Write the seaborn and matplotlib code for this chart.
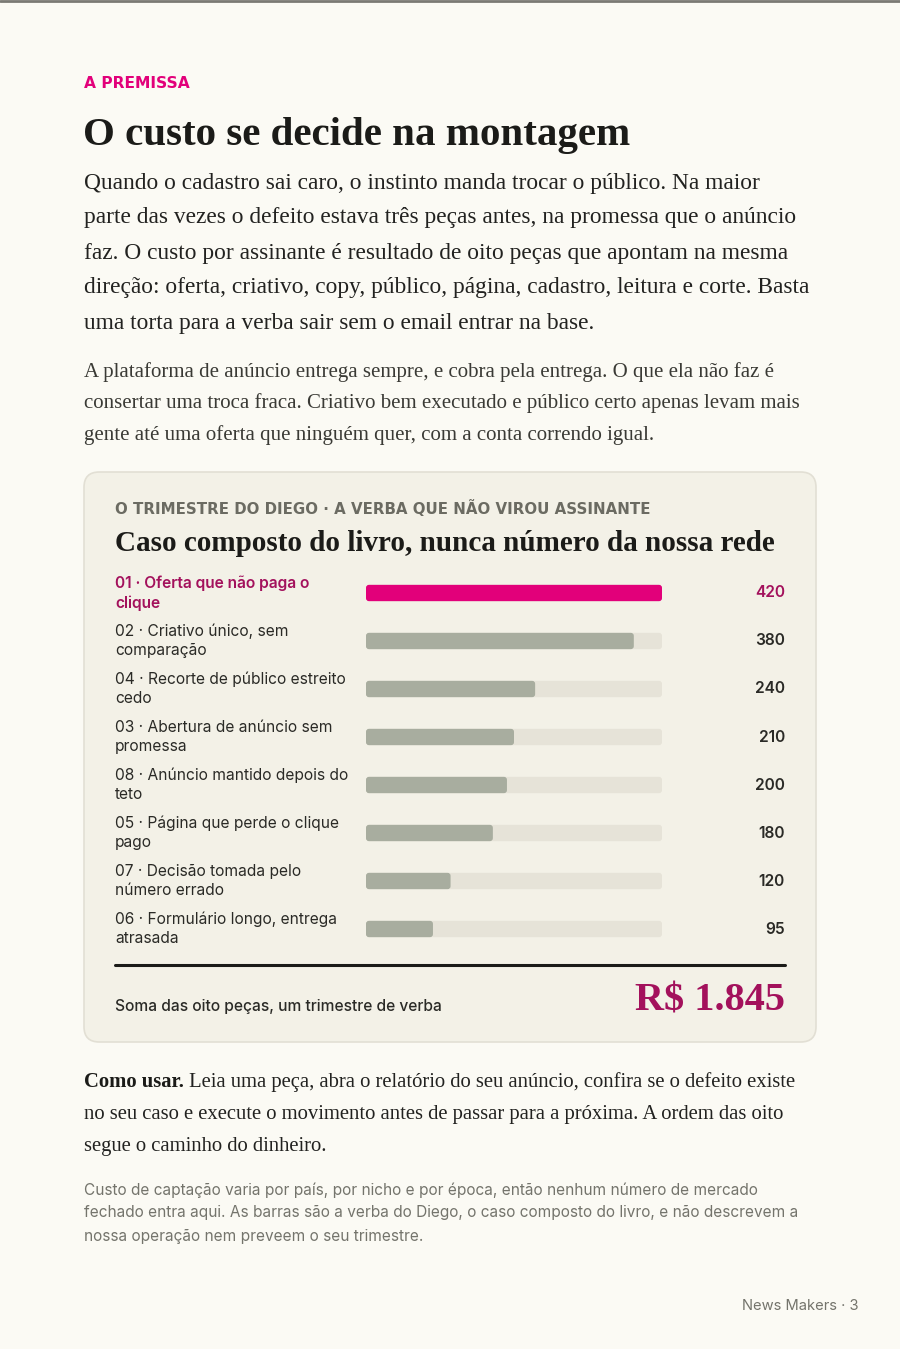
import matplotlib
matplotlib.use("Agg")
import matplotlib.pyplot as plt
import seaborn as sns
import pandas as pd
from matplotlib.patches import FancyBboxPatch
from matplotlib.transforms import blended_transform_factory

# Dados
rotulos = [
    "01 · Oferta que não paga o\nclique",
    "02 · Criativo único, sem\ncomparação",
    "04 · Recorte de público estreito\ncedo",
    "03 · Abertura de anúncio sem\npromessa",
    "08 · Anúncio mantido depois do\nteto",
    "05 · Página que perde o clique\npago",
    "07 · Decisão tomada pelo\nnúmero errado",
    "06 · Formulário longo, entrega\natrasada",
]
valores = [420, 380, 240, 210, 200, 180, 120, 95]
destaque = [True, False, False, False, False, False, False, False]
total_txt = "R$ 1.845"

paragrafo1 = [
    "Quando o cadastro sai caro, o instinto manda trocar o público. Na maior",
    "parte das vezes o defeito estava três peças antes, na promessa que o anúncio",
    "faz. O custo por assinante é resultado de oito peças que apontam na mesma",
    "direção: oferta, criativo, copy, público, página, cadastro, leitura e corte. Basta",
    "uma torta para a verba sair sem o email entrar na base.",
]
paragrafo2 = [
    "A plataforma de anúncio entrega sempre, e cobra pela entrega. O que ela não faz é",
    "consertar uma troca fraca. Criativo bem executado e público certo apenas levam mais",
    "gente até uma oferta que ninguém quer, com a conta correndo igual.",
]
como_usar = [
    "Leia uma peça, abra o relatório do seu anúncio, confira se o defeito existe",
    "no seu caso e execute o movimento antes de passar para a próxima. A ordem das oito",
    "segue o caminho do dinheiro.",
]
nota = [
    "Custo de captação varia por país, por nicho e por época, então nenhum número de mercado",
    "fechado entra aqui. As barras são a verba do Diego, o caso composto do livro, e não descrevem a",
    "nossa operação nem preveem o seu trimestre.",
]

# Cores
FUNDO = "#FBFAF4"
CARTAO = "#F3F1E7"
BORDA = "#E2DFD4"
ROSA = "#E2007A"
VINHO = "#A3115C"
CINZA_BARRA = "#A8AD9F"
TRILHO = "#E6E3D8"
TINTA = "#1B1B18"

sns.set_theme(style="white")
plt.rcParams["font.family"] = ["Inter", "DejaVu Sans"]
SERIF = ["Liberation Serif", "DejaVu Serif"]
LARGA = ["DejaVu Sans"]

W, H = 900, 1349
fig = plt.figure(figsize=(W / 100, H / 100), dpi=100, facecolor=FUNDO)


def fx(x):
    return x / W


def fy(y):
    return 1 - y / H


def put(x, y, s, **kw):
    kw.setdefault("va", "center")
    return fig.text(fx(x), fy(y), s, **kw)


# linha do topo
fig.add_artist(plt.Line2D([0, 1], [1 - 1 / H, 1 - 1 / H], color="#7A7A74", lw=2))

put(84, 83, "A PREMISSA", family=LARGA, color=ROSA, fontsize=11.2, fontweight="bold")
put(83, 136, "O custo se decide na montagem", family=SERIF, fontsize=29.5,
    fontweight="bold", color=TINTA)

for i, linha in enumerate(paragrafo1):
    put(84, 183 + i * 35, linha, family=SERIF, fontsize=16.8, color="#222220")

for i, linha in enumerate(paragrafo2):
    put(84, 372 + i * 31.5, linha, family=SERIF, fontsize=15, color="#3A3A35")

# cartão
cartao = FancyBboxPatch((fx(84), fy(1042)), fx(816) - fx(84), fy(472) - fy(1042),
                        boxstyle="round,pad=0,rounding_size=0.017",
                        transform=fig.transFigure, facecolor=CARTAO,
                        edgecolor=BORDA, lw=1.2, mutation_aspect=W / H, zorder=-1)
fig.add_artist(cartao)

put(115, 509, "O TRIMESTRE DO DIEGO · A VERBA QUE NÃO VIROU ASSINANTE",
    family=LARGA, color="#6B6B62", fontsize=10.8, fontweight="bold")
put(115, 543, "Caso composto do livro, nunca número da nossa rede", family=SERIF,
    fontsize=21.0, fontweight="bold", color=TINTA)

# barras
df = pd.DataFrame({"rotulo": rotulos, "valor": valores, "destaque": destaque})
df["trilho"] = max(valores)

ax = fig.add_axes([fx(366), fy(953), fx(662) - fx(366), fy(569) - fy(953)])
ax.set_facecolor("none")
sns.barplot(data=df, y="rotulo", x="trilho", color=TRILHO, width=0.34,
            orient="h", ax=ax, saturation=1, linewidth=0)
sns.barplot(data=df, y="rotulo", x="valor", hue="destaque",
            palette={True: ROSA, False: CINZA_BARRA}, width=0.34, orient="h",
            ax=ax, saturation=1, legend=False, linewidth=0)
ax.set_xlim(0, max(valores))
ax.set_ylim(len(rotulos) - 0.5, -0.5)
ax.axis("off")

# cantos arredondados (3 px)
larg_px = fx(662) * W - fx(366) * W
alt_px = 953 - 569
ux = max(valores) / larg_px
uy = len(rotulos) / alt_px
for p in list(ax.patches):
    x0, y0, w, h = p.get_x(), p.get_y(), p.get_width(), p.get_height()
    if w <= 0:
        continue
    novo = FancyBboxPatch((x0, y0), w, h,
                          boxstyle=f"round,pad=0,rounding_size={3 * ux}",
                          mutation_aspect=uy / ux, facecolor=p.get_facecolor(),
                          edgecolor="none", zorder=p.get_zorder())
    p.remove()
    ax.add_patch(novo)

trans = blended_transform_factory(fig.transFigure, ax.transData)
for i, row in df.iterrows():
    cor = VINHO if row["destaque"] else "#2A2A26"
    peso = "semibold" if row["destaque"] else "normal"
    ax.text(fx(115), i, row["rotulo"], transform=trans, va="center", ha="left",
            fontsize=11.2, color=cor, fontweight=peso, linespacing=1.35)
    ax.text(fx(785), i, f"{row['valor']}", transform=trans, va="center",
            ha="right", fontsize=11.2, fontweight="semibold", color=cor)

fig.add_artist(plt.Line2D([fx(115), fx(785)], [fy(965), fy(965)], color=TINTA, lw=2.2))
put(115, 1006, "Soma das oito peças, um trimestre de verba", fontsize=11.2,
    fontweight="medium", color="#2A2A26")
put(785, 1001, total_txt, family=SERIF, fontsize=29, fontweight="bold",
    color=VINHO, ha="right")

# como usar
t = put(84, 1082, "Como usar.", family=SERIF, fontsize=14.9, fontweight="bold",
        color=TINTA)
fig.canvas.draw()
larg = t.get_window_extent().width
put(84 + larg + 5, 1082, como_usar[0], family=SERIF, fontsize=14.9, color="#222220")
for i, linha in enumerate(como_usar[1:], start=1):
    put(84, 1082 + i * 32, linha, family=SERIF, fontsize=14.9, color="#222220")

for i, linha in enumerate(nota):
    put(84, 1190 + i * 23, linha, fontsize=11.1, color="#74746C")

put(858, 1306, "News Makers · 3", fontsize=10.6, color="#74746C", ha="right")

fig.savefig("out.png", dpi=100, facecolor=FUNDO)
